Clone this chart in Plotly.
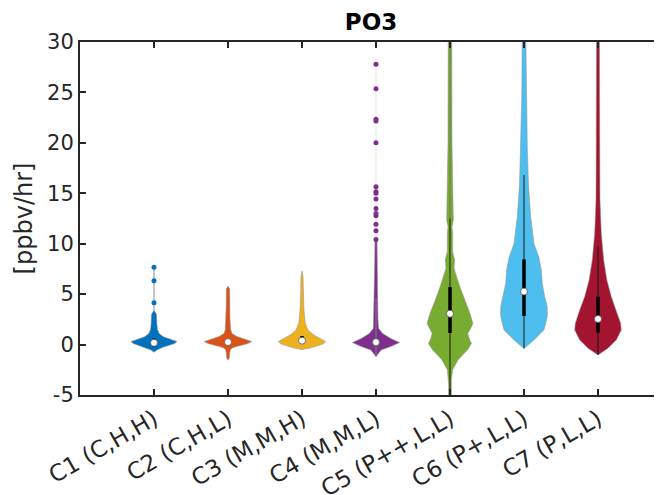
import plotly.graph_objects as go

# ---------------- data ----------------
categories = ["C1 (C,H,H)", "C2 (C,H,L)", "C3 (M,M,H)", "C4 (M,M,L)",
              "C5 (P++,L,L)", "C6 (P+,L,L)", "C7 (P,L,L)"]
colors = ["#0072BD", "#D95319", "#EDB120", "#7E2F8E", "#77AC30", "#4DBEEE", "#A2142F"]

# violin outlines: y levels and half-widths (in category units)
c1_y = [-0.75, -0.55, -0.3, -0.1, 0.1, 0.3, 0.5, 0.8, 1.1, 1.5, 2.0, 3.0, 3.4]
c1_w = [0, 0.04, 0.11, 0.20, 0.28, 0.31, 0.23, 0.12, 0.07, 0.047, 0.04, 0.034, 0]
c2_y = [-1.55, -1.3, -0.8, -0.5, -0.3, -0.1, 0.1, 0.3, 0.5, 0.8, 1.1, 1.5, 2.5, 4.0, 5.5, 5.8]
c2_w = [0, 0.02, 0.023, 0.034, 0.068, 0.16, 0.27, 0.32, 0.24, 0.12, 0.054, 0.036, 0.027, 0.024, 0.023, 0]
c3_y = [-0.5, -0.35, -0.15, 0.05, 0.3, 0.6, 0.95, 1.45, 2.1, 3.4, 5.1, 6.8, 7.3]
c3_w = [0, 0.11, 0.2, 0.28, 0.32, 0.24, 0.16, 0.08, 0.045, 0.027, 0.018, 0.014, 0]
c4_y = [-1.2, -0.9, -0.55, -0.2, 0.2, 0.6, 1.1, 1.6, 2.5, 5.0, 8.0, 10.4, 10.5]
c4_w = [0, 0.027, 0.068, 0.2, 0.32, 0.2, 0.09, 0.036, 0.027, 0.022, 0.018, 0.014, 0]
c5_y = [-5.2, -4.0, -3.5, -2.5, -1.5, -0.5, 0.1, 0.6, 1.1, 1.6, 2.1, 3.1, 4.4, 5.7, 6.7, 7.6, 8.4, 9.2, 11.0, 11.7, 12.3, 14.3, 20.0, 31.0, 31.1]
c5_w = [0.02, 0.018, 0.018, 0.036, 0.11, 0.24, 0.29, 0.26, 0.24, 0.28, 0.31, 0.27, 0.2, 0.135, 0.09, 0.054, 0.064, 0.036, 0.036, 0.027, 0.045, 0.04, 0.027, 0.024, 0]
c6_y = [-0.4, 0.46, 1.45, 2.77, 3.76, 4.75, 6.07, 7.4, 8.7, 10.0, 12.7, 16.0, 19.5, 24.6, 31.0, 31.1]
c6_w = [0, 0.135, 0.27, 0.315, 0.315, 0.28, 0.247, 0.234, 0.2, 0.135, 0.09, 0.06, 0.045, 0.03, 0.024, 0]
c7_y = [-1.03, -0.37, 0.46, 1.45, 2.1, 3.43, 4.75, 6.4, 8.4, 11.0, 14.3, 20.0, 31.0, 31.1]
c7_w = [0, 0.135, 0.247, 0.315, 0.307, 0.247, 0.18, 0.12, 0.077, 0.045, 0.027, 0.024, 0.02, 0]

profiles_y = [c1_y, c2_y, c3_y, c4_y, c5_y, c6_y, c7_y]
profiles_w = [c1_w, c2_w, c3_w, c4_w, c5_w, c6_w, c7_w]

# box statistics
q1 = [-0.2, 0.0, 0.1, 0.0, 1.15, 2.83, 1.18]
medians = [0.17, 0.25, 0.39, 0.24, 3.06, 5.25, 2.54]
q3 = [0.6, 0.4, 0.85, 0.5, 5.7, 8.45, 4.75]
# whiskers
whisk_lo = [None, None, None, -1.2, -5.0, -0.37, -1.03]
whisk_hi = [None, None, None, 4.6, 12.5, 16.8, 9.7]

# isolated high values (outliers)
c1_out = [4.15, 6.33, 7.66]
c4_out = [10.43, 11.29, 11.92, 12.78, 13.0, 13.5, 14.43, 15.0, 15.15, 15.65,
          20.0, 22.16, 22.33, 25.36, 27.8]
outliers = [c1_out, [], [], c4_out, [], [], []]
# thin tail from body top to the maximum value
tail_from = [3.4, None, None, 10.4, None, None, None]
tail_to = [7.66, None, None, 27.8, None, None, None]
tail_colors = ["#8c8c8c", None, None, "#e6e6e6", None, None, None]

yticks = [-5, 0, 5, 10, 15, 20, 25, 30]

# ---------------- figure ----------------
fig = go.Figure()

for i in range(7):
    xc = i + 1
    ys = profiles_y[i]
    ws = profiles_w[i]
    xs = [xc + w for w in ws] + [xc - w for w in reversed(ws)]
    yy = list(ys) + list(reversed(ys))
    if tail_from[i] is not None:
        fig.add_trace(go.Scatter(x=[xc, xc], y=[tail_from[i], tail_to[i]], mode="lines",
                                 line=dict(color=tail_colors[i], width=1),
                                 hoverinfo="skip", showlegend=False))
    fig.add_trace(go.Scatter(x=xs, y=yy, mode="lines", fill="toself",
                             fillcolor=colors[i],
                             line=dict(color="rgba(150,150,150,0.7)", width=0.8),
                             hoverinfo="skip", showlegend=False))
    if outliers[i]:
        fig.add_trace(go.Scatter(x=[xc] * len(outliers[i]), y=outliers[i], mode="markers",
                                 marker=dict(color=colors[i], size=5),
                                 hoverinfo="skip", showlegend=False))
    if whisk_lo[i] is not None:
        wcol = "#7f7f7f" if i == 3 else "#1a1a1a"
        fig.add_trace(go.Scatter(x=[xc, xc], y=[whisk_lo[i], whisk_hi[i]], mode="lines",
                                 line=dict(color=wcol, width=1),
                                 hoverinfo="skip", showlegend=False))
    if i == 4:
        fig.add_trace(go.Scatter(x=[xc, xc], y=[whisk_hi[i], 30.5], mode="lines",
                                 line=dict(color="#707070", width=0.8),
                                 hoverinfo="skip", showlegend=False))
    fig.add_trace(go.Scatter(x=[xc, xc], y=[q1[i], q3[i]], mode="lines",
                             line=dict(color="black", width=3.5),
                             hoverinfo="skip", showlegend=False))
    fig.add_trace(go.Scatter(x=[xc], y=[medians[i]], mode="markers",
                             marker=dict(color="white", size=7,
                                         line=dict(color="#555555", width=0.8)),
                             hoverinfo="skip", showlegend=False))

axis_col = "#262626"
fig.update_layout(
    width=662, height=495,
    margin=dict(l=72, r=8, t=34, b=108),
    paper_bgcolor="white", plot_bgcolor="white",
    font=dict(family="DejaVu Sans", color=axis_col),
    title=dict(text="<b>PO3</b>", x=0.5, xanchor="center", xref="paper",
               y=0.972, yref="container", yanchor="middle",
               font=dict(size=23, color="black", family="DejaVu Sans")),
    showlegend=False,
)
fig.update_xaxes(
    range=[0, 7.865], tickmode="array", tickvals=list(range(1, 8)), ticktext=categories,
    tickangle=-30, tickfont=dict(size=23, color=axis_col), automargin=False,
    ticks="inside", ticklen=6, tickwidth=2, tickcolor=axis_col,
    showline=True, linecolor=axis_col, linewidth=2, mirror="ticks",
    showgrid=False, zeroline=False,
)
fig.update_yaxes(
    range=[-5, 30], tickmode="array", tickvals=yticks,
    ticktext=[str(v) for v in yticks], automargin=False,
    tickfont=dict(size=21, color=axis_col),
    ticks="inside", ticklen=6, tickwidth=2, tickcolor=axis_col,
    showline=True, linecolor=axis_col, linewidth=2, mirror=False,
    showgrid=False, zeroline=False,
    title=dict(text="[ppbv/hr]", font=dict(size=24, color=axis_col), standoff=8),
)

fig.write_html("out.html")
